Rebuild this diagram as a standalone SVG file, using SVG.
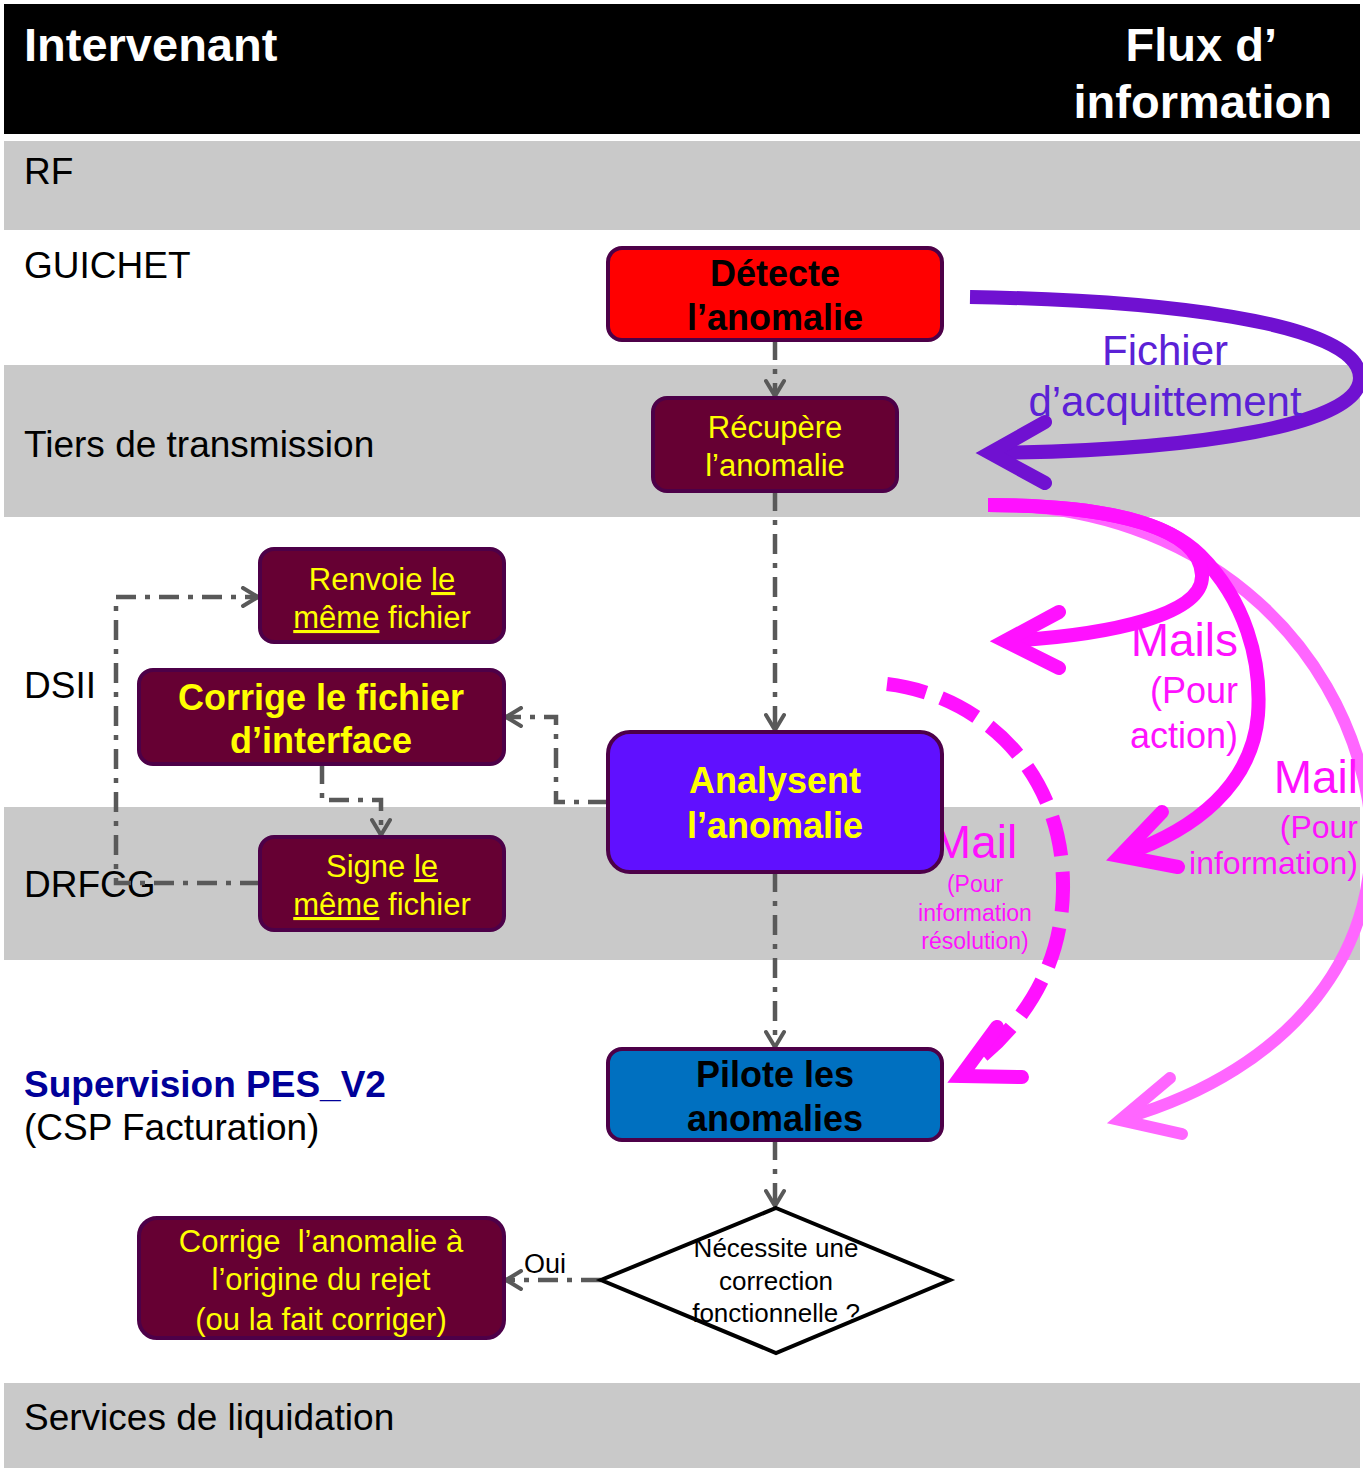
<svg xmlns="http://www.w3.org/2000/svg" width="1363" height="1468" viewBox="0 0 1363 1468">
<style>
text{font-family:"Liberation Sans",Arial,sans-serif}
.lane{fill:#c9c9c9}
.lbl{font-size:37px;fill:#000}
.box{stroke:#4d0048;stroke-width:4}
.dk{fill:#660033}
.yb{font-size:36px;font-weight:bold;fill:#ffff00;text-anchor:middle}
.yr{font-size:31px;fill:#ffff00;text-anchor:middle}
.kb{font-size:36px;font-weight:bold;fill:#000;text-anchor:middle}
.con{fill:none;stroke:#595959;stroke-width:4.5;stroke-dasharray:20 9 5 9;marker-end:url(#chev)}
.mg{fill:none;stroke:#ff11ff;stroke-width:14;stroke-linecap:butt}
.mgh{fill:none;stroke:#ff11ff;stroke-width:14;stroke-linecap:round;stroke-linejoin:miter}
.mt{fill:#ff11ff;text-anchor:end}
</style>
<defs>
<marker id="chev" viewBox="0 0 22 22" refX="20" refY="11" markerWidth="22" markerHeight="22" markerUnits="userSpaceOnUse" orient="auto">
<path d="M5,2 L20,11 L5,20" fill="none" stroke="#595959" stroke-width="4" stroke-linecap="round"/>
</marker>
</defs>
<rect width="1363" height="1468" fill="#fff"/>
<!-- header -->
<g id="header">
<rect x="4" y="4" width="1356" height="130" fill="#000"/>
<text x="24" y="61" font-size="47" font-weight="bold" fill="#fff">Intervenant</text>
<text x="1277" y="61" font-size="47" font-weight="bold" fill="#fff" text-anchor="end">Flux d’</text>
<text x="1332" y="118" font-size="47" font-weight="bold" fill="#fff" text-anchor="end">information</text>
</g>
<!-- lanes -->
<g id="lanes">
<rect class="lane" x="4" y="141" width="1356" height="89"/>
<rect class="lane" x="4" y="365" width="1356" height="152"/>
<rect class="lane" x="4" y="807" width="1356" height="153"/>
<rect class="lane" x="4" y="1383" width="1356" height="85"/>
<text class="lbl" x="24" y="184">RF</text>
<text class="lbl" x="24" y="278">GUICHET</text>
<text class="lbl" x="24" y="457">Tiers de transmission</text>
<text class="lbl" x="24" y="698">DSII</text>
<text class="lbl" x="24" y="897">DRFCG</text>
<text x="24" y="1097" font-size="37" font-weight="bold" fill="#000099">Supervision PES_V2</text>
<text class="lbl" x="24" y="1140">(CSP Facturation)</text>
<text class="lbl" x="24" y="1430">Services de liquidation</text>
</g>
<!-- connectors -->
<g id="connectors">
<path class="con" d="M775,340 L775,396"/>
<path class="con" d="M775,491 L775,730"/>
<path class="con" d="M775,872 L775,1047"/>
<path class="con" d="M775,1140 L775,1206"/>
<path class="con" d="M601,1280 L506,1280"/>
<path class="con" d="M608,802 L556,802 L556,717 L506,717"/>
<path class="con" d="M322,764 L322,800 L381,800 L381,835"/>
<path class="con" d="M260,883 L116,883 L116,597 L258,597"/>
<text x="545" y="1273" font-size="27" fill="#000" text-anchor="middle">Oui</text>
<!-- purple acknowledgement arrow -->
<path d="M970,297 C1150,300 1360,320 1360,378 C1360,425 1200,450 995,453" fill="none" stroke="#7011d1" stroke-width="14"/>
<path d="M1045,422 L990,453 L1045,483" fill="none" stroke="#7011d1" stroke-width="14" stroke-linecap="round"/>
<text x="1165" y="365" font-size="42" fill="#5b21d6" text-anchor="middle">Fichier</text>
<text x="1165" y="416" font-size="42" fill="#5b21d6" text-anchor="middle">d’acquittement</text>
<!-- light pink arrow to Pilote -->
<path d="M988,505 C1200,505 1340,640 1368,800 C1390,950 1290,1070 1125,1118" fill="none" stroke="#ff66ff" stroke-width="12"/>
<path d="M1170,1078 L1120,1120 L1182,1134" fill="none" stroke="#ff66ff" stroke-width="12" stroke-linecap="round"/>
<!-- magenta arrow to DRFCG -->
<path class="mg" d="M988,505 C1110,505 1170,525 1200,555 C1245,600 1262,660 1258,715 C1252,785 1195,830 1125,854"/>
<path class="mgh" d="M1162,812 L1120,856 L1178,867"/>
<!-- magenta arrow to DSII -->
<path class="mg" d="M988,505 C1120,505 1200,530 1202,575 C1204,615 1110,635 1008,641"/>
<path class="mgh" d="M1059,612 L1005,641 L1059,668"/>
<!-- dashed magenta arrow -->
<path class="mg" d="M887,684 C980,695 1065,770 1063,890 C1062,960 1030,1020 970,1066" stroke-dasharray="40 16"/>
<path class="mgh" d="M997,1027 L961,1076 L1022,1077"/>
<text class="mt" x="1238" y="656" font-size="46">Mails</text>
<text class="mt" x="1238" y="703" font-size="36">(Pour</text>
<text class="mt" x="1238" y="748" font-size="36">action)</text>
<text class="mt" x="1358" y="793" font-size="46">Mail</text>
<text class="mt" x="1358" y="838" font-size="32">(Pour</text>
<text class="mt" x="1358" y="874" font-size="32">information)</text>
<text x="975" y="858" font-size="46" fill="#ff11ff" text-anchor="middle">Mail</text>
<text x="975" y="892" font-size="23" fill="#ff11ff" text-anchor="middle">(Pour</text>
<text x="975" y="921" font-size="23" fill="#ff11ff" text-anchor="middle">information</text>
<text x="975" y="949" font-size="23" fill="#ff11ff" text-anchor="middle">résolution)</text>
</g>
<!-- nodes -->
<g id="detecte">
<rect class="box" x="608" y="248" width="334" height="92" rx="14" fill="#ff0000"/>
<text class="kb" x="775" y="286">Détecte</text>
<text class="kb" x="775" y="330">l’anomalie</text>
</g>
<g id="recupere">
<rect class="box dk" x="653" y="398" width="244" height="93" rx="14"/>
<text class="yr" x="775" y="438">Récupère</text>
<text class="yr" x="775" y="476">l’anomalie</text>
</g>
<g id="renvoie">
<rect class="box dk" x="260" y="549" width="244" height="93" rx="14"/>
<text class="yr" x="382" y="590">Renvoie <tspan text-decoration="underline">le</tspan></text>
<text class="yr" x="382" y="628"><tspan text-decoration="underline">même</tspan> fichier</text>
</g>
<g id="corrige-fichier">
<rect class="box dk" x="139" y="670" width="365" height="94" rx="14"/>
<text class="yb" x="321" y="710">Corrige le fichier</text>
<text class="yb" x="321" y="753">d’interface</text>
</g>
<g id="signe">
<rect class="box dk" x="260" y="837" width="244" height="93" rx="14"/>
<text class="yr" x="382" y="877">Signe <tspan text-decoration="underline">le</tspan></text>
<text class="yr" x="382" y="915"><tspan text-decoration="underline">même</tspan> fichier</text>
</g>
<g id="analysent">
<rect class="box" x="608" y="732" width="334" height="140" rx="22" fill="#6010ff"/>
<text class="yb" x="775" y="793">Analysent</text>
<text class="yb" x="775" y="838">l’anomalie</text>
</g>
<g id="pilote">
<rect class="box" x="608" y="1049" width="334" height="91" rx="14" fill="#0070c0"/>
<text class="kb" x="775" y="1087">Pilote les</text>
<text class="kb" x="775" y="1131">anomalies</text>
</g>
<g id="decision">
<polygon points="776,1208 950,1280 776,1353 601,1280" fill="#fff" stroke="#000" stroke-width="4"/>
<text x="776" y="1257" font-size="26" text-anchor="middle">Nécessite une</text>
<text x="776" y="1290" font-size="26" text-anchor="middle">correction</text>
<text x="776" y="1322" font-size="26" text-anchor="middle">fonctionnelle ?</text>
</g>
<g id="corrige-anomalie">
<rect class="box dk" x="139" y="1218" width="365" height="120" rx="18"/>
<text class="yr" x="321" y="1252" xml:space="preserve">Corrige  l’anomalie à</text>
<text class="yr" x="321" y="1290">l’origine du rejet</text>
<text class="yr" x="321" y="1330">(ou la fait corriger)</text>
</g>
</svg>
